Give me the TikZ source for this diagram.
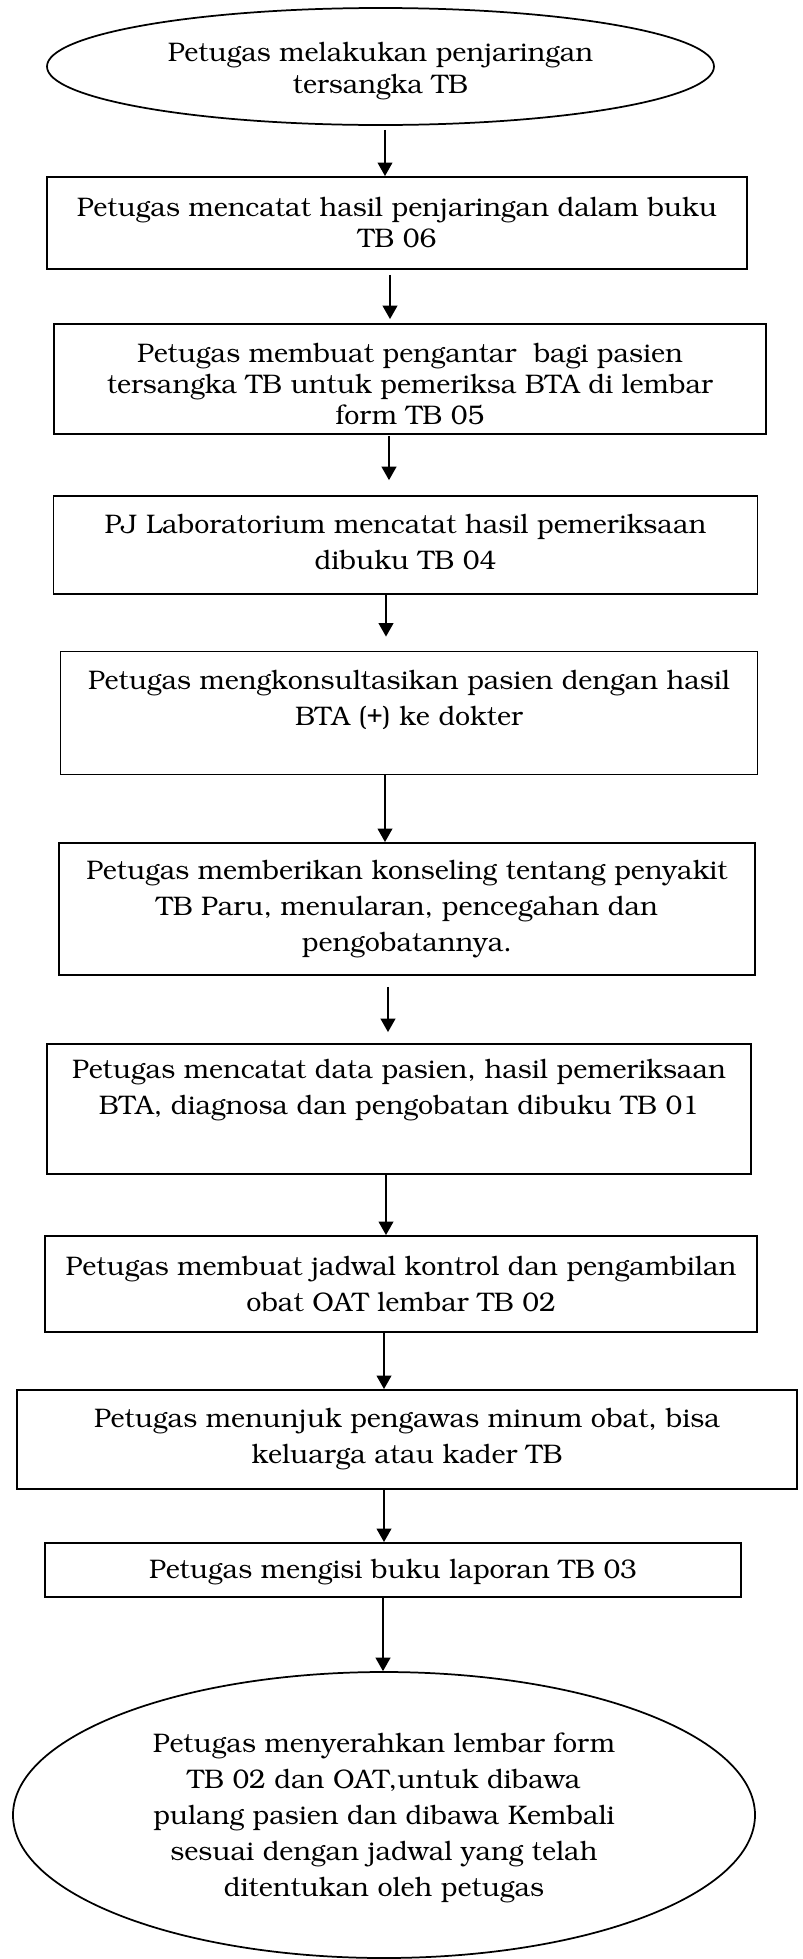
\documentclass[tikz,border=0pt]{standalone}
\usepackage[T1]{fontenc}
\usepackage{bookman}
\usetikzlibrary{shapes.geometric,arrows.meta}
% shift the text block of a node: \tdown{2s}{first line} moves it down by s,
% \tup{2s}{last line} moves it up by s
\newcommand\tdown[2]{\raisebox{0pt}[\dimexpr\height+#1\relax]{#2}}
\newcommand\tup[2]{\raisebox{0pt}[\height][\dimexpr\depth+#1\relax]{#2}}
\begin{document}
\begin{tikzpicture}[x=0.43pt,y=-0.43pt,
  txt/.style={inner sep=0pt,align=center,font=\fontsize{11.55}{15.5}\selectfont},
  tight/.style={font=\fontsize{11.55}{13.4}\selectfont},
  stepbox/.style={txt,draw,line width=0.85pt,rectangle},
  oval/.style={txt,draw,line width=0.75pt,ellipse},
  arr/.style={line width=0.6pt,-{Triangle[width=6.4pt,length=5.8pt]}}]
\useasboundingbox (0,0) rectangle (803,1959);
\node[oval,tight,minimum width=667*0.43pt,minimum height=117*0.43pt] (e1) at (380.5,66.5)
  {\tdown{4.3pt}{Petugas melakukan penjaringan}\\tersangka TB};
\node[stepbox,tight,minimum width=700*0.43pt,minimum height=92*0.43pt] (b1) at (397,223)
  {Petugas mencatat hasil penjaringan dalam buku\\TB 06};
\node[stepbox,tight,minimum width=712*0.43pt,minimum height=110*0.43pt] (b2) at (410,379)
  {\tdown{4.8pt}{Petugas membuat pengantar\ \ bagi pasien}\\tersangka TB untuk pemeriksa BTA di lembar\\form TB 05};
\node[stepbox,minimum width=704*0.43pt,minimum height=98*0.43pt] (b3) at (405.5,545)
  {PJ Laboratorium mencatat hasil pemeriksaan\\\tup{2.2pt}{dibuku TB 04}};
\node[stepbox,minimum width=697*0.43pt,minimum height=123*0.43pt] (b4) at (409,713)
  {Petugas mengkonsultasikan pasien dengan hasil\\\tup{11.4pt}{BTA (+) ke dokter}};
\node[stepbox,minimum width=696*0.43pt,minimum height=132*0.43pt] (b5) at (407,909)
  {Petugas memberikan konseling tentang penyakit\\TB Paru, menularan, pencegahan dan\\pengobatannya.};
\node[stepbox,minimum width=704*0.43pt,minimum height=130*0.43pt] (b6) at (399,1109)
  {Petugas mencatat data pasien, hasil pemeriksaan\\\tup{15.6pt}{BTA, diagnosa dan pengobatan dibuku TB 01}};
\node[stepbox,minimum width=712*0.43pt,minimum height=96*0.43pt] (b7) at (401,1284)
  {Petugas membuat jadwal kontrol dan pengambilan\\obat OAT lembar TB 02};
\node[stepbox,minimum width=780*0.43pt,minimum height=99*0.43pt] (b8) at (407,1439.5)
  {Petugas menunjuk pengawas minum obat, bisa\\keluarga atau kader TB};
\node[stepbox,minimum width=696*0.43pt,minimum height=54*0.43pt] (b9) at (393,1570)
  {\tdown{2.4pt}{Petugas mengisi buku laporan TB 03}};
\node[oval,minimum width=742*0.43pt,minimum height=286*0.43pt] (e2) at (384,1815)
  {\tdown{2.2pt}{Petugas menyerahkan lembar form}\\TB 02 dan OAT,untuk dibawa\\pulang pasien dan dibawa Kembali\\sesuai dengan jadwal yang telah\\ditentukan oleh petugas};
\coordinate (c1) at (385,0);
\coordinate (c2) at (390,0);
\coordinate (c3) at (389,0);
\coordinate (c4) at (386,0);
\coordinate (c5) at (385,0);
\coordinate (c6) at (388,0);
\coordinate (c7) at (386,0);
\coordinate (c8) at (384,0);
\coordinate (c9) at (384,0);
\coordinate (c10) at (383,0);
\draw[arr,shorten <=1.7pt] (e1.south -| c1) -- (b1.north -| c1);
\draw[arr,shorten <=2.1pt,shorten >=1.7pt] (b1.south -| c2) -- (b2.north -| c2);
\draw[arr,shorten <=0.4pt,shorten >=6.4pt] (b2.south -| c3) -- (b3.north -| c3);
\draw[arr,shorten >=6pt] (b3.south -| c4) -- (b4.north -| c4);
\draw[arr] (b4.south -| c5) -- (b5.north -| c5);
\draw[arr,shorten <=4.7pt,shorten >=4.7pt] (b5.south -| c6) -- (b6.north -| c6);
\draw[arr] (b6.south -| c7) -- (b7.north -| c7);
\draw[arr] (b7.south -| c8) -- (b8.north -| c8);
\draw[arr] (b8.south -| c9) -- (b9.north -| c9);
\draw[arr] (b9.south -| c10) -- (e2.north -| c10);
\end{tikzpicture}
\end{document}
